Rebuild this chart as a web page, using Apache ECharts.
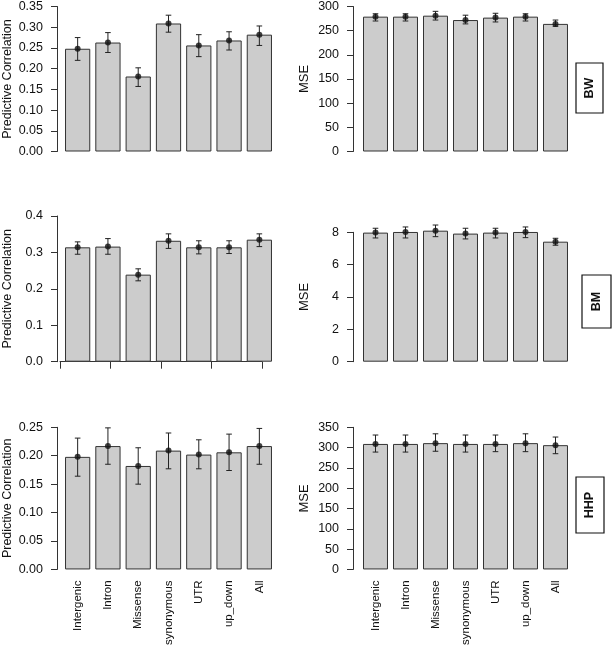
<!DOCTYPE html>
<html><head><meta charset="utf-8">
<script src="https://cdn.jsdelivr.net/npm/echarts@6/dist/echarts.min.js"></script>
<style>html,body{margin:0;padding:0;background:#fff}#c{width:614px;height:648px}</style>
</head><body><div id="c"></div>
<script>
const categories = ['Intergenic', 'Intron', 'Missense', 'synonymous', 'UTR', 'up_down', 'All'];
const traits = ['BW', 'BM', 'HHP'];

// BW
const bwCorr   = [0.248, 0.263, 0.181, 0.309, 0.256, 0.268, 0.282];
const bwCorrLo = [0.220, 0.239, 0.157, 0.288, 0.229, 0.245, 0.256];
const bwCorrHi = [0.275, 0.287, 0.202, 0.329, 0.282, 0.289, 0.303];
const bwMse    = [279, 279, 281, 272, 277, 279, 264];
const bwMseLo  = [270, 270, 272, 264, 268, 270, 259];
const bwMseHi  = [285, 285, 290, 282, 286, 285, 272];
// BM
const bmCorr   = [0.314, 0.316, 0.239, 0.332, 0.314, 0.314, 0.335];
const bmCorrLo = [0.295, 0.295, 0.222, 0.311, 0.296, 0.297, 0.316];
const bmCorrHi = [0.329, 0.338, 0.255, 0.351, 0.332, 0.332, 0.351];
const bmMse    = [7.98, 8.02, 8.10, 7.92, 7.98, 8.02, 7.42];
const bmMseLo  = [7.65, 7.65, 7.73, 7.59, 7.65, 7.67, 7.20];
const bmMseHi  = [8.25, 8.33, 8.45, 8.25, 8.25, 8.33, 7.63];
// HHP
const hhpCorr   = [0.198, 0.217, 0.182, 0.209, 0.202, 0.206, 0.217];
const hhpCorrLo = [0.164, 0.185, 0.150, 0.177, 0.177, 0.174, 0.185];
const hhpCorrHi = [0.231, 0.249, 0.214, 0.240, 0.228, 0.238, 0.248];
const hhpMse    = [309, 309, 311, 309, 309, 311, 306];
const hhpMseLo  = [289, 289, 291, 289, 290, 290, 285];
const hhpMseHi  = [331, 331, 334, 331, 331, 334, 326];

// tick labels
const bwCorrTicks  = ['0.00', '0.05', '0.10', '0.15', '0.20', '0.25', '0.30', '0.35'];
const bwMseTicks   = ['0', '50', '100', '150', '200', '250', '300'];
const bmCorrTicks  = ['0.0', '0.1', '0.2', '0.3', '0.4'];
const bmMseTicks   = ['0', '2', '4', '6', '8'];
const hhpCorrTicks = ['0.00', '0.05', '0.10', '0.15', '0.20', '0.25'];
const hhpMseTicks  = ['0', '50', '100', '150', '200', '250', '300', '350'];
const bmExtraAxisTicks = ['0', '2', '4', '6', '8'];

const FONT = "'Liberation Sans',Arial,sans-serif";
const TXT = '#111';
const LINE = '#333';

const panels = [
  {v: bwCorr, lo: bwCorrLo, hi: bwCorrHi, ticks: bwCorrTicks, name: 'Predictive Correlation', col: 0, row: 0, top: 6.3},
  {v: bwMse, lo: bwMseLo, hi: bwMseHi, ticks: bwMseTicks, name: 'MSE', col: 1, row: 0, top: 6.3},
  {v: bmCorr, lo: bmCorrLo, hi: bmCorrHi, ticks: bmCorrTicks, name: 'Predictive Correlation', col: 0, row: 1, top: 216},
  {v: bmMse, lo: bmMseLo, hi: bmMseHi, ticks: bmMseTicks, name: 'MSE', col: 1, row: 1, top: 232.3},
  {v: hhpCorr, lo: hhpCorrLo, hi: hhpCorrHi, ticks: hhpCorrTicks, name: 'Predictive Correlation', col: 0, row: 2, top: 427.3},
  {v: hhpMse, lo: hhpMseLo, hi: hhpMseHi, ticks: hhpMseTicks, name: 'MSE', col: 1, row: 2, top: 427.3}
];
const cols = [
  {left: 62.5, width: 212, yOffset: 5.5, nameGap: 43, nameSize: 12.5, labelPad: [9, 0, 0, 0]},
  {left: 360.5, width: 210, yOffset: 7.5, nameGap: 42, nameSize: 13, labelPad: [0, 0, 4, 0]}
];
const rowBottoms = [151.5, 361.7, 572];

const grids = [], xAxes = [], yAxes = [], series = [];
panels.forEach((p, i) => {
  const c = cols[p.col];
  const bottom = rowBottoms[p.row];
  grids.push({left: c.left, width: c.width, top: p.top, height: bottom - p.top, containLabel: false});
  const isBottom = p.row === 2;
  xAxes.push({
    type: 'category', gridIndex: i, data: categories,
    axisLine: {show: false}, axisTick: {show: false},
    axisLabel: {show: isBottom, rotate: 90, margin: 11, fontSize: 11.5, fontFamily: FONT, color: TXT, padding: c.labelPad, interval: 0}
  });
  const tickVals = p.ticks.map(Number);
  const interval = tickVals[1] - tickVals[0];
  const decimals = (p.ticks[0].split('.')[1] || '').length;
  yAxes.push({
    type: 'value', gridIndex: i, min: tickVals[0], max: tickVals[tickVals.length - 1], interval: interval,
    offset: c.yOffset,
    name: p.name, nameLocation: 'middle', nameRotate: 90, nameGap: c.nameGap,
    nameTextStyle: {fontSize: c.nameSize, fontFamily: FONT, color: TXT},
    axisLine: {show: true, lineStyle: {color: LINE, width: 1}},
    axisTick: {show: true, length: 6, inside: false, lineStyle: {color: LINE, width: 1}},
    splitLine: {show: false},
    axisLabel: {margin: 14, fontSize: 12.5, fontFamily: FONT, color: TXT, formatter: v => v.toFixed(decimals)}
  });
  series.push({
    type: 'bar', xAxisIndex: i, yAxisIndex: i, data: p.v, barCategoryGap: '16.67%', clip: false,
    itemStyle: {color: '#cccccc', borderColor: '#333', borderWidth: 1}, silent: true
  });
  series.push({
    type: 'custom', xAxisIndex: i, yAxisIndex: i, clip: false, z: 5,
    data: categories.map((cat, k) => [k, p.lo[k], p.hi[k]]),
    encode: {x: 0, y: [1, 2]},
    renderItem: function (params, api) {
      const x = api.value(0), lo = api.value(1), hi = api.value(2);
      const a = api.coord([x, lo]), b = api.coord([x, hi]);
      const w = 2.8;
      const st = {stroke: '#222', lineWidth: 1};
      return {type: 'group', children: [
        {type: 'line', shape: {x1: a[0], y1: a[1], x2: b[0], y2: b[1]}, style: st},
        {type: 'line', shape: {x1: a[0] - w, y1: a[1], x2: a[0] + w, y2: a[1]}, style: st},
        {type: 'line', shape: {x1: b[0] - w, y1: b[1], x2: b[0] + w, y2: b[1]}, style: st}
      ]};
    }
  });
  series.push({
    type: 'scatter', xAxisIndex: i, yAxisIndex: i, data: p.v, clip: false, z: 6,
    symbol: 'circle', symbolSize: 6, itemStyle: {color: '#111'}
  });
});

// extra numeric x axis drawn under the BM correlation panel
const ex = bmExtraAxisTicks.map(Number);
grids.push({left: 60, width: 202, top: 340, height: 361.7 - 340});
xAxes.push({
  type: 'value', gridIndex: 6, min: ex[0], max: ex[ex.length - 1], interval: ex[1] - ex[0],
  axisLine: {show: true, lineStyle: {color: LINE, width: 1}},
  axisTick: {show: true, length: 7, inside: false, lineStyle: {color: LINE, width: 1}},
  axisLabel: {show: false}, splitLine: {show: false}
});
yAxes.push({type: 'value', gridIndex: 6, show: false, min: 0, max: 1});

// strip labels
const stripBoxes = [
  {x: 576, y: 63, w: 27, h: 50},
  {x: 582, y: 275, w: 29, h: 53},
  {x: 576, y: 477, w: 28, h: 56}
];
const graphic = traits.map((t, i) => {
  const b = stripBoxes[i];
  return {type: 'group', children: [
    {type: 'rect', shape: {x: b.x, y: b.y, width: b.w, height: b.h}, style: {fill: '#fff', stroke: '#111', lineWidth: 1.2}},
    {type: 'text', x: b.x + b.w / 2, y: b.y + b.h / 2, rotation: Math.PI / 2,
     style: {text: t, fontSize: 12.5, fontWeight: 'bold', fontFamily: FONT, fill: '#111',
             align: 'center', verticalAlign: 'middle', textAlign: 'center', textVerticalAlign: 'middle'}}
  ]};
});

const chart = echarts.init(document.getElementById('c'), null, {renderer: 'canvas'});
chart.setOption({
  animation: false,
  backgroundColor: '#fff',
  grid: grids, xAxis: xAxes, yAxis: yAxes, series: series, graphic: graphic
});
</script>
</body></html>
